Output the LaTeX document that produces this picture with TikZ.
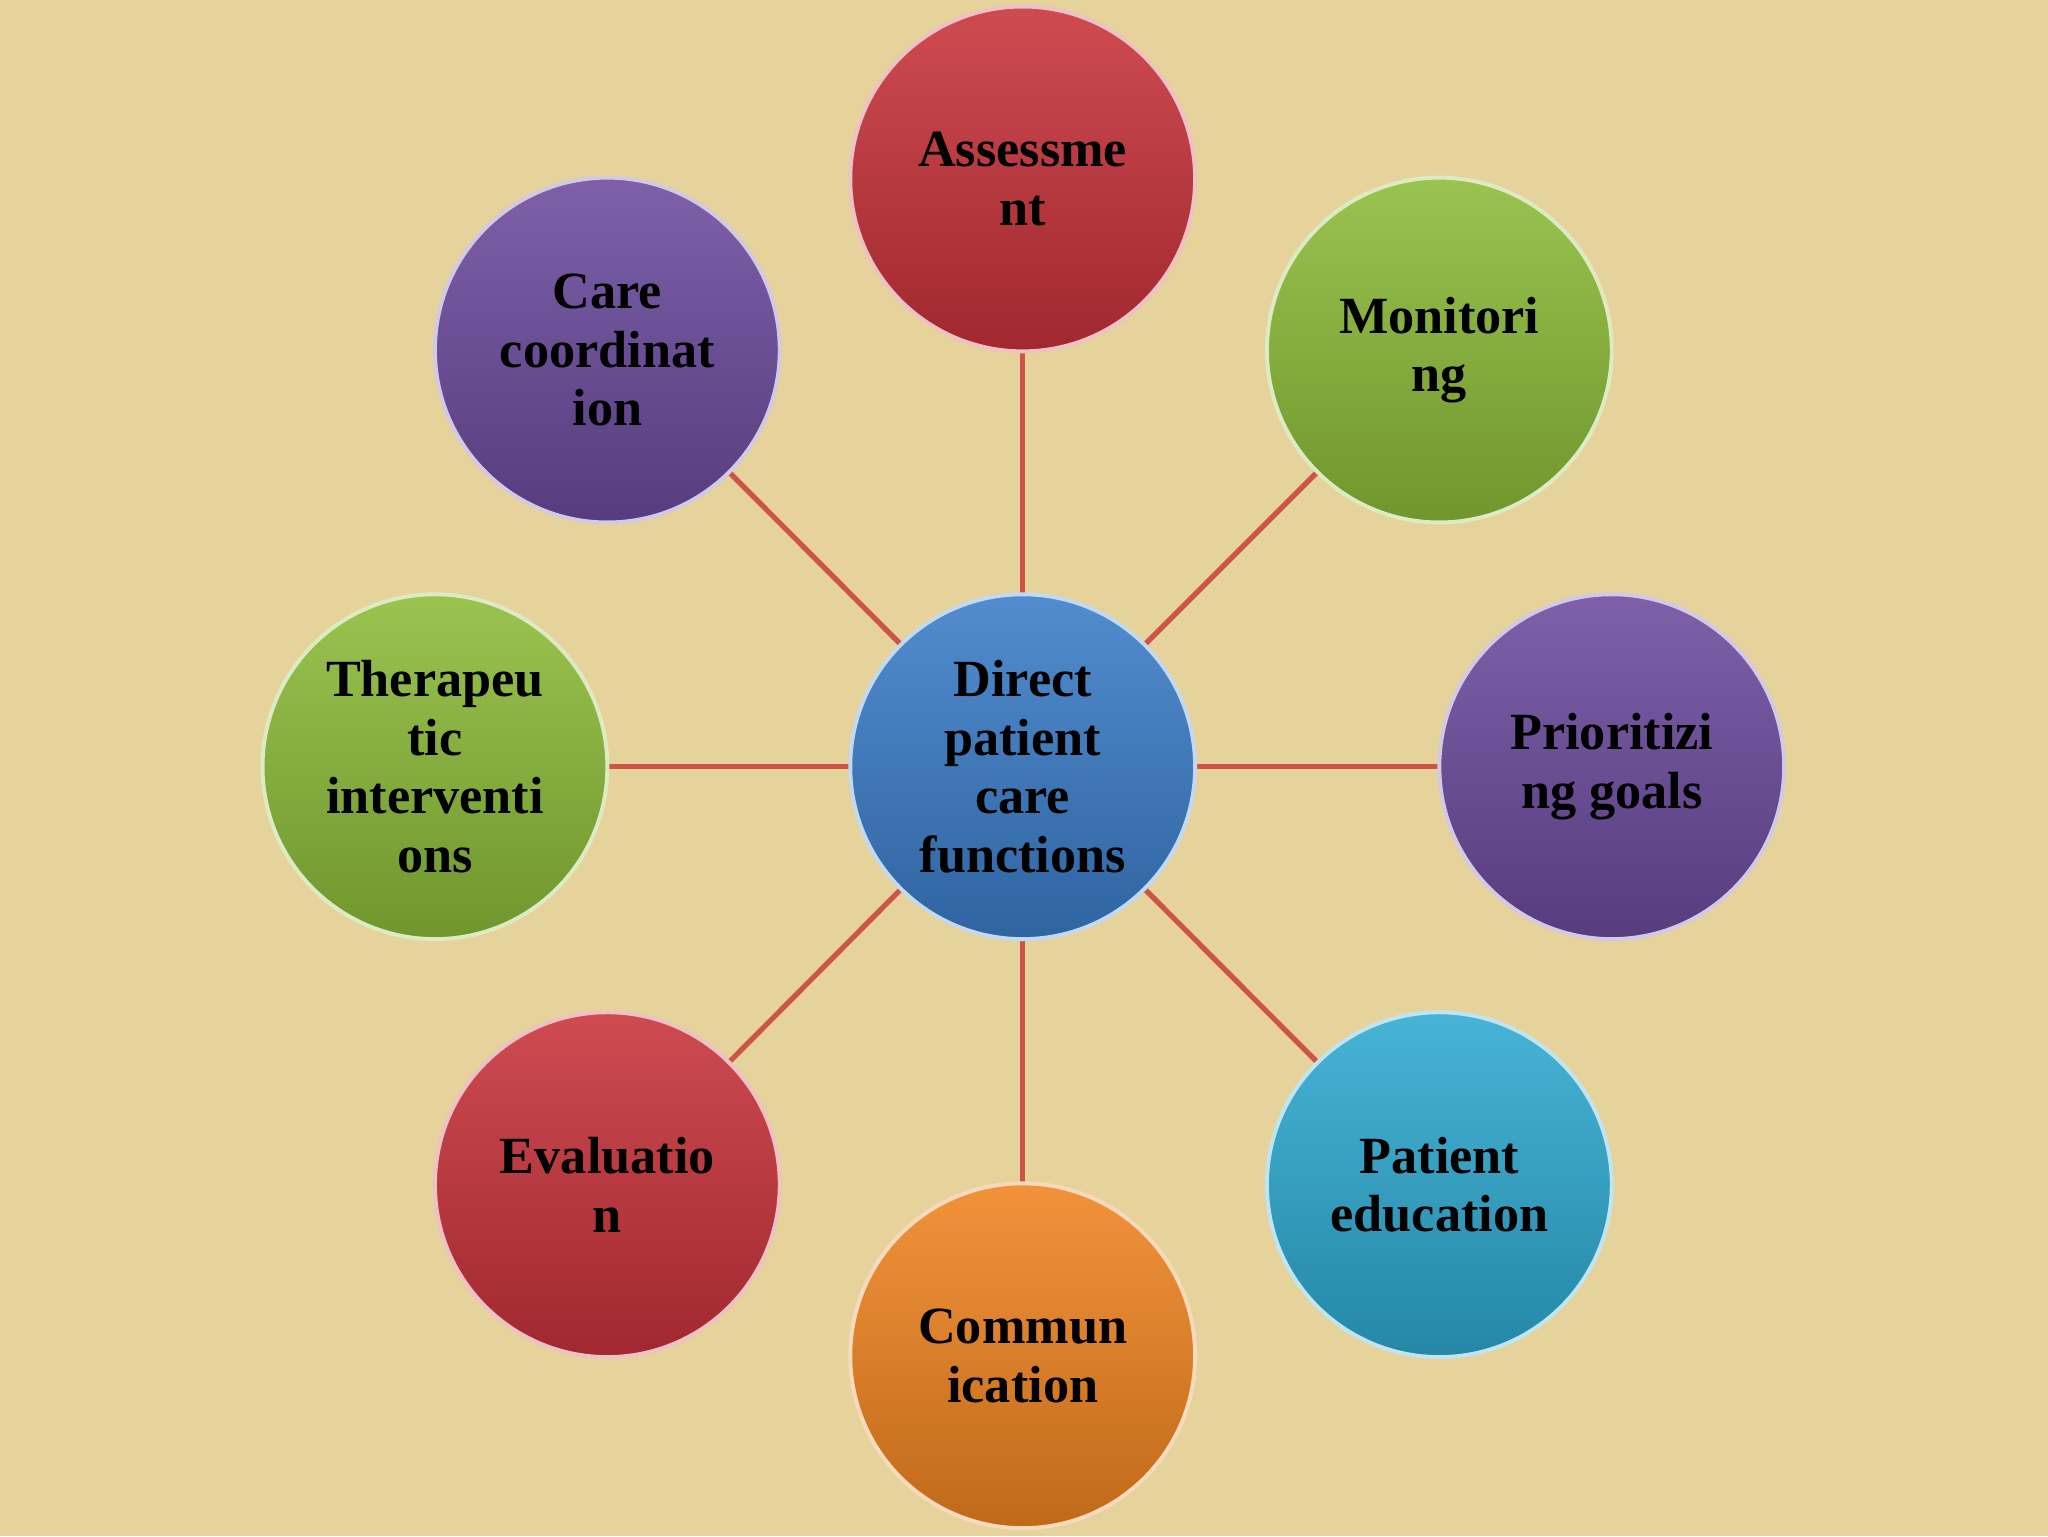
\documentclass[tikz,border=0pt]{standalone}
\usepackage{fontspec}
\setmainfont{Liberation Serif}
\begin{document}
\begin{tikzpicture}[x=1pt,y=-1pt,
  ball/.style={circle,minimum size=264pt,inner sep=0pt,draw=white!70!#1,line width=3pt,
    top color=#1!88!white,bottom color=#1!80!black,shading angle=0,
    align=center,font=\fontsize{40}{45}\selectfont\bfseries,text=black},
  link/.style={draw=linkred,line width=4pt}]
\definecolor{bg}{HTML}{E6D39C}
\definecolor{linkred}{HTML}{CC5548}
\definecolor{cred}{HTML}{C8323A}
\definecolor{cgreen}{HTML}{8CBB38}
\definecolor{cpurple}{HTML}{6C4B9E}
\definecolor{ccyan}{HTML}{2EA9D0}
\definecolor{corange}{HTML}{F08420}
\definecolor{cblue}{HTML}{3A7DC8}
\fill[bg] (0,0) rectangle (1568,1176);
\useasboundingbox (0,0) rectangle (1568,1176);
\coordinate (c) at (783,587);
\foreach \p in {(783,137),(1102,268),(1234,587),(1102,907),(783,1038),(465,907),(333,587),(465,268)}
  \draw[link] (c) -- \p;
\node[ball=cblue] (ctr) at (783,587) {Direct\\patient\\care\\functions};
\node[ball=cred] (a) at (783,137) {Assessme\\nt};
\node[ball=cgreen] (m) at (1102,268) {Monitori\\ng};
\node[ball=cpurple] (p) at (1234,587) {Prioritizi\\ng goals};
\node[ball=ccyan] (e) at (1102,907) {Patient\\education};
\node[ball=corange] (co) at (783,1038) {Commun\\ication};
\node[ball=cred] (ev) at (465,907) {Evaluatio\\n};
\node[ball=cgreen] (t) at (333,587) {Therapeu\\tic\\interventi\\ons};
\node[ball=cpurple] (cc) at (465,268) {Care\\coordinat\\ion};
\end{tikzpicture}
\end{document}
